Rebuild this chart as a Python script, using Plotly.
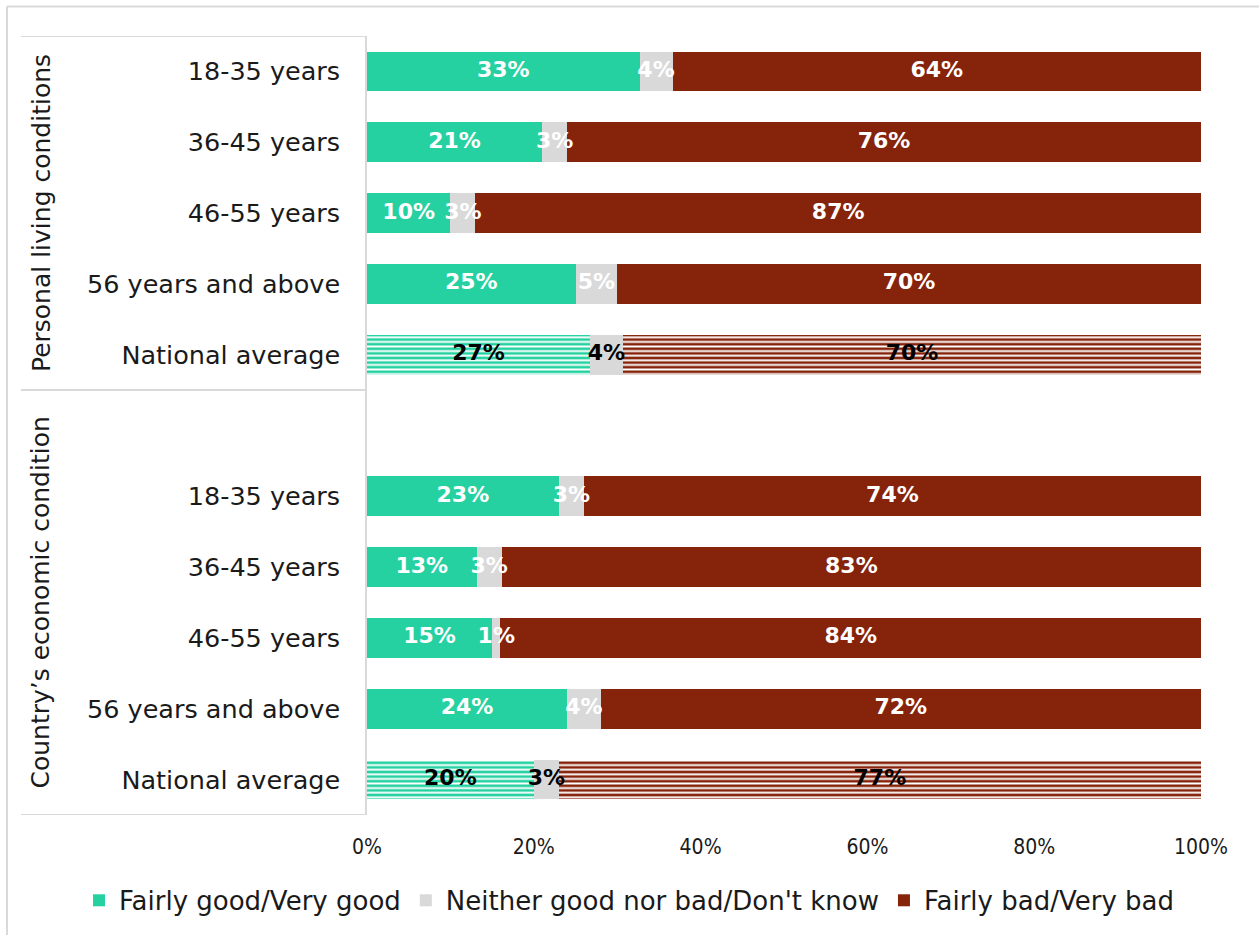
import plotly.graph_objects as go

# ---- data ----
row_labels_personal = ["18-35 years", "36-45 years", "46-55 years", "56 years and above", "National average"]
row_labels_economy = ["18-35 years", "36-45 years", "46-55 years", "56 years and above", "National average"]
group_names = ["Personal living conditions", "Country\u2019s economic condition"]

good_personal = [33, 21, 10, 25, 27]
neither_personal = [4, 3, 3, 5, 4]
bad_personal = [64, 76, 87, 70, 70]

good_economy = [23, 13, 15, 24, 20]
neither_economy = [3, 3, 1, 4, 3]
bad_economy = [74, 83, 84, 72, 77]

series_names = ["Fairly good/Very good", "Neither good nor bad/Don't know", "Fairly bad/Very bad"]
x_ticks = [0, 20, 40, 60, 80, 100]

# ---- styling ----
GREEN = "#25D1A1"
GRAY = "#D9D9D9"
RED = "#86230B"
FONT = "DejaVu Sans"
FONT_C = "DejaVu Sans Condensed, DejaVu Sans"
TXT = "#1a1a1a"
LINE = "#D9D9D9"

W, H = 1259, 935
pl, pr, pt, pb = 367, 58, 35.5, 118.5
pw, ph = W - pl - pr, H - pt - pb

n = len(row_labels_personal)
y_personal = list(range(n))
y_economy = [n + 1 + i for i in range(n)]
y_all = y_personal + y_economy
labels_all = row_labels_personal + row_labels_economy
is_avg = [lab == "National average" for lab in labels_all]
total_rows = 2 * n + 1

series_vals = [
    good_personal + good_economy,
    neither_personal + neither_economy,
    bad_personal + bad_economy,
]
colors = [GREEN, GRAY, RED]

fig = go.Figure()
for name, vals, col in zip(series_names, series_vals, colors):
    pshape, fg, bg = [], [], []
    for avg in is_avg:
        if avg and col != GRAY:
            pshape.append("-"); fg.append("white"); bg.append(col)
        else:
            pshape.append(""); fg.append(col); bg.append(col)
    fig.add_trace(go.Bar(
        y=y_all,
        x=vals,
        orientation="h",
        name=name,
        marker=dict(
            color=col,
            line=dict(width=0),
            pattern=dict(shape=pshape, fgcolor=fg, bgcolor=bg, size=4.6, solidity=0.42, fillmode="replace"),
        ),
        width=0.56,
        hoverinfo="skip",
    ))

# value labels on top of all bars (centred in each normalised segment)
totals = [sum(v[i] for v in series_vals) for i in range(len(y_all))]
cum = [0.0] * len(y_all)
for vals in series_vals:
    xs, txt, tcol = [], [], []
    for i, v in enumerate(vals):
        share = 100.0 * v / totals[i]
        xs.append(cum[i] + share / 2)
        cum[i] += share
        txt.append(f"{v}%")
        tcol.append("black" if is_avg[i] else "white")
    fig.add_trace(go.Scatter(
        x=xs, y=y_all, mode="text", text=txt,
        textposition="middle center",
        textfont=dict(family=FONT, size=22, color=tcol, weight="bold"),
        showlegend=False, hoverinfo="skip", cliponaxis=False,
    ))

fig.update_layout(
    barmode="stack",
    barnorm="percent",
    width=W,
    height=H,
    margin=dict(l=pl, r=pr, t=pt, b=pb),
    paper_bgcolor="white",
    plot_bgcolor="white",
    font=dict(family=FONT, size=24, color=TXT),
    showlegend=True,
    legend=dict(
        orientation="h",
        x=(79 - pl) / pw, xanchor="left",
        y=1 - (901 - pt) / ph, yanchor="middle",
        font=dict(family=FONT, size=26, color=TXT),
        traceorder="normal",
        itemwidth=30,
    ),
)
fig.update_xaxes(
    range=[0, 100],
    tickvals=x_ticks,
    ticktext=[f"{t}%" for t in x_ticks],
    showgrid=False,
    zeroline=False,
    showline=False,
    ticks="",
    ticklabelstandoff=17,
    tickfont=dict(family=FONT_C, size=21, color=TXT),
    fixedrange=True,
)
fig.update_yaxes(
    range=[total_rows - 0.5, -0.5],
    tickvals=y_all,
    ticktext=labels_all,
    showgrid=False,
    zeroline=False,
    showline=True,
    linecolor=LINE,
    linewidth=1.5,
    ticks="",
    ticklabelstandoff=20,
    tickfont=dict(family=FONT, size=25.5, color=TXT),
    fixedrange=True,
)


def px_x(x):
    return (x - pl) / pw


def px_y(y):
    return 1 - (y - pt) / ph


shapes = [
    dict(type="line", xref="paper", yref="paper", x0=px_x(7), x1=px_x(1270), y0=px_y(6), y1=px_y(6),
         line=dict(color=LINE, width=2)),
    dict(type="line", xref="paper", yref="paper", x0=px_x(7), x1=px_x(7), y0=px_y(6), y1=px_y(945),
         line=dict(color=LINE, width=2)),
]
for yv in [-0.5, n - 0.5, total_rows - 0.5]:
    shapes.append(dict(type="line", xref="paper", yref="y", x0=px_x(21), x1=0, y0=yv, y1=yv,
                       line=dict(color=LINE, width=2)))
fig.update_layout(shapes=shapes)

group_centers = [(-0.5 + n - 0.5) / 2, (n - 0.5 + total_rows - 0.5) / 2]
for gname, yc in zip(group_names, group_centers):
    fig.add_annotation(
        x=px_x(41), xref="paper", y=yc, yref="y",
        text=gname, textangle=-90, showarrow=False,
        font=dict(family=FONT, size=25, color=TXT),
        xanchor="center", yanchor="middle",
    )

fig.write_html("out.html", config={"displayModeBar": False},
               post_script="document.body.style.margin='0';")
